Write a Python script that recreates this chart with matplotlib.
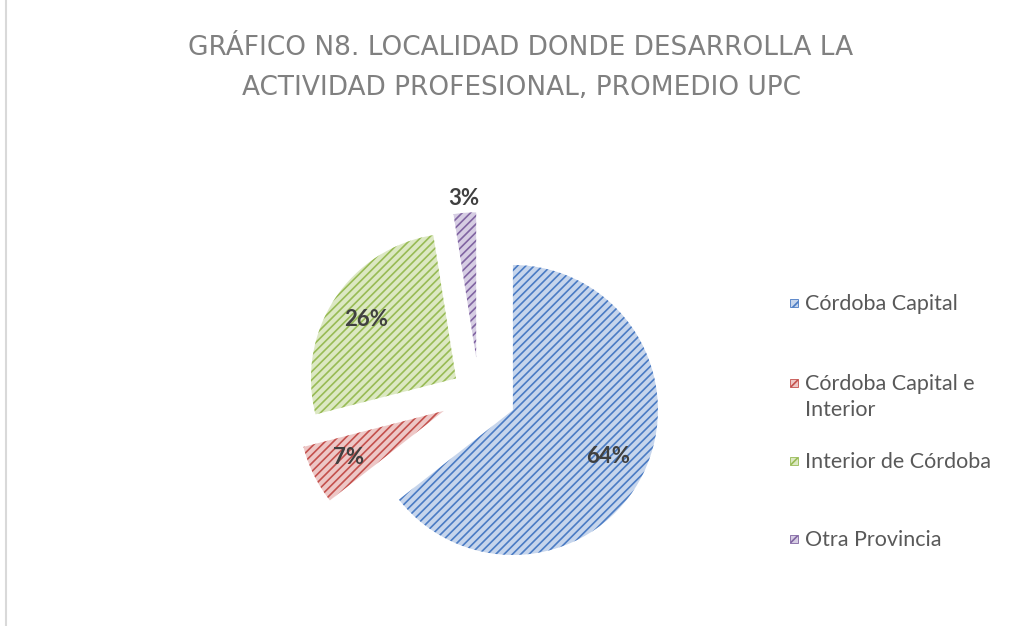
import numpy as np
import matplotlib
matplotlib.use('Agg')
import matplotlib.pyplot as plt
from matplotlib.patches import Rectangle

# data
categories = ['Córdoba Capital', 'Córdoba Capital e\nInterior',
              'Interior de Córdoba', 'Otra Provincia']
shares = [64.4, 6.6, 26.5, 2.5]
pct_labels = ['64%', '7%', '26%', '3%']

fill_colors = ['#c6d5ec', '#edc7c6', '#dce8c3', '#d6cde3']
hatch_colors = ['#4a7bc4', '#c4504c', '#98bb55', '#8064a2']
explode = [0.26, 0.27, 0.19, 0.25]
label_dist = [0.73, 0.73, 0.74, 1.1]

plt.rcParams['font.family'] = ['Lato', 'DejaVu Sans']
plt.rcParams['hatch.linewidth'] = 1.2

W, H = 1034, 626
fig = plt.figure(figsize=(W / 100, H / 100), dpi=100)

# pie axes: centre at (479, 393) px, radius 145 px
R = 145
half = 1.5
cx, cy = 479, 393.5
ax = fig.add_axes([(cx - half * R) / W, (H - cy - half * R) / H,
                   2 * half * R / W, 2 * half * R / H])
wedges, _ = ax.pie(shares, colors=fill_colors, startangle=90,
                   counterclock=False, explode=explode,
                   wedgeprops=dict(linewidth=0))
for w, hc in zip(wedges, hatch_colors):
    w.set_edgecolor(hc)
    w.set_hatch('////')

for w, lab, d in zip(wedges, pct_labels, label_dist):
    ang = np.deg2rad((w.theta1 + w.theta2) / 2)
    x0, y0 = w.center
    ax.text(x0 + d * np.cos(ang), y0 + d * np.sin(ang), lab,
            ha='center', va='center', fontsize=16, fontweight='bold',
            color='#404040')
ax.set_xlim(-half, half)
ax.set_ylim(-half, half)
ax.axis('off')

# title
for line, y in [('GRÁFICO N8. LOCALIDAD DONDE DESARROLLA LA', 48),
                ('ACTIVIDAD PROFESIONAL, PROMEDIO UPC', 88)]:
    fig.text(521 / W, 1 - y / H, line, ha='center', va='center',
             fontsize=19, color='#808080', family='DejaVu Sans')

# legend, drawn by hand so the marker sits on the first line
legend_y = [303, 383, 461, 539]
for lab, fc, hc, y in zip(categories, fill_colors, hatch_colors, legend_y):
    fig.patches.append(Rectangle((790 / W, 1 - (y + 4) / H), 8 / W, 8 / H,
                                 transform=fig.transFigure, facecolor=fc,
                                 edgecolor=hc, hatch='///', linewidth=0.6))
    fig.text(805 / W, 1 - (y - 9) / H, lab, ha='left', va='top',
             fontsize=15.5, color='#595959', linespacing=1.4)

# faint border on the left edge
fig.add_artist(plt.Line2D([5.5 / W, 5.5 / W], [0, 1], color='#d9d9d9',
                          linewidth=1.5, transform=fig.transFigure))

fig.savefig('out.png', dpi=100)
